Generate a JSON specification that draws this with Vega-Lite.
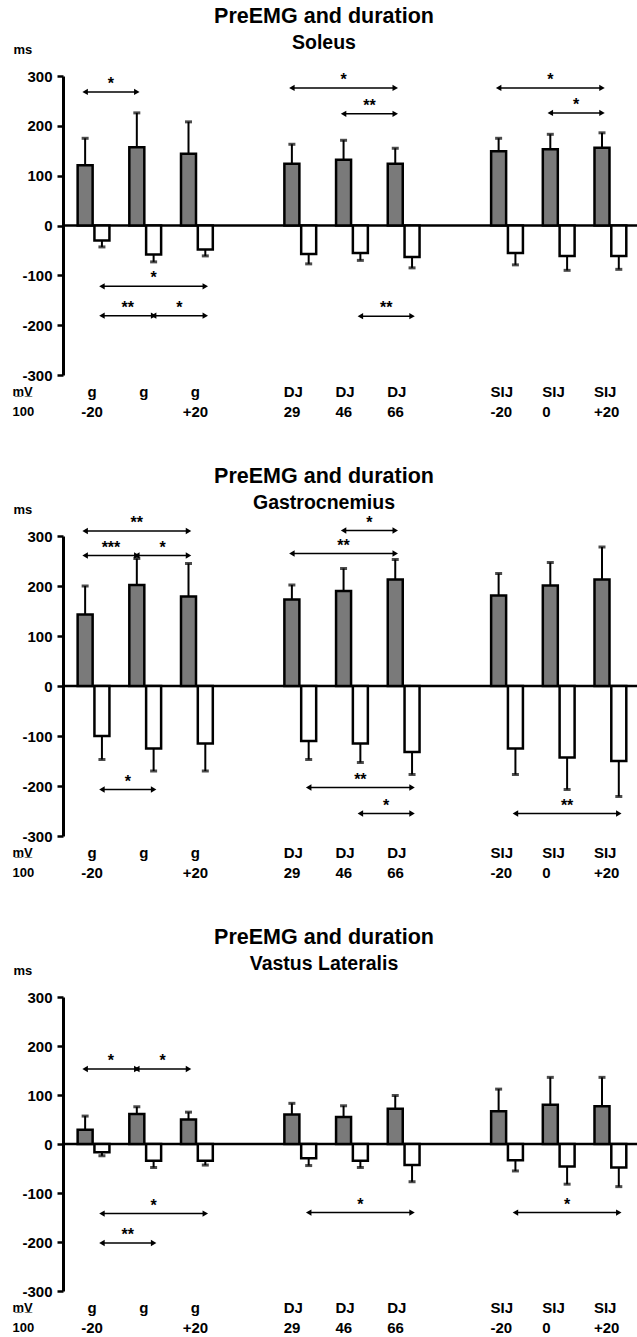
{
 "$schema": "https://vega.github.io/schema/vega-lite/v6.json",
 "padding": {"left": 12, "top": 6, "right": 0, "bottom": 0},
 "background": "white",
 "spacing": 161,
 "bounds": "flush",
 "config": {"view": {"stroke": null}, "font": "Liberation Sans", "axis": {"grid": false}},
 "datasets": {"d": [
  {"m":"Soleus","t":"b","pos":0,"side":"pre","v":121,"e":175},
  {"m":"Soleus","t":"b","pos":0,"side":"dur","v":-30,"e":-43},
  {"m":"Soleus","t":"b","pos":1,"side":"pre","v":157,"e":226},
  {"m":"Soleus","t":"b","pos":1,"side":"dur","v":-58,"e":-73},
  {"m":"Soleus","t":"b","pos":2,"side":"pre","v":144,"e":208},
  {"m":"Soleus","t":"b","pos":2,"side":"dur","v":-48,"e":-61},
  {"m":"Soleus","t":"b","pos":4,"side":"pre","v":124,"e":163},
  {"m":"Soleus","t":"b","pos":4,"side":"dur","v":-57,"e":-77},
  {"m":"Soleus","t":"b","pos":5,"side":"pre","v":132,"e":171},
  {"m":"Soleus","t":"b","pos":5,"side":"dur","v":-55,"e":-70},
  {"m":"Soleus","t":"b","pos":6,"side":"pre","v":124,"e":155},
  {"m":"Soleus","t":"b","pos":6,"side":"dur","v":-63,"e":-85},
  {"m":"Soleus","t":"b","pos":8,"side":"pre","v":149,"e":175},
  {"m":"Soleus","t":"b","pos":8,"side":"dur","v":-55,"e":-79},
  {"m":"Soleus","t":"b","pos":9,"side":"pre","v":153,"e":183},
  {"m":"Soleus","t":"b","pos":9,"side":"dur","v":-61,"e":-90},
  {"m":"Soleus","t":"b","pos":10,"side":"pre","v":156,"e":186},
  {"m":"Soleus","t":"b","pos":10,"side":"dur","v":-61,"e":-88},
  {"m":"Gastrocnemius","t":"b","pos":0,"side":"pre","v":143,"e":200},
  {"m":"Gastrocnemius","t":"b","pos":0,"side":"dur","v":-100,"e":-147},
  {"m":"Gastrocnemius","t":"b","pos":1,"side":"pre","v":202,"e":255},
  {"m":"Gastrocnemius","t":"b","pos":1,"side":"dur","v":-125,"e":-170},
  {"m":"Gastrocnemius","t":"b","pos":2,"side":"pre","v":179,"e":245},
  {"m":"Gastrocnemius","t":"b","pos":2,"side":"dur","v":-115,"e":-170},
  {"m":"Gastrocnemius","t":"b","pos":4,"side":"pre","v":173,"e":202},
  {"m":"Gastrocnemius","t":"b","pos":4,"side":"dur","v":-110,"e":-147},
  {"m":"Gastrocnemius","t":"b","pos":5,"side":"pre","v":190,"e":235},
  {"m":"Gastrocnemius","t":"b","pos":5,"side":"dur","v":-115,"e":-153},
  {"m":"Gastrocnemius","t":"b","pos":6,"side":"pre","v":213,"e":253},
  {"m":"Gastrocnemius","t":"b","pos":6,"side":"dur","v":-132,"e":-177},
  {"m":"Gastrocnemius","t":"b","pos":8,"side":"pre","v":181,"e":225},
  {"m":"Gastrocnemius","t":"b","pos":8,"side":"dur","v":-125,"e":-177},
  {"m":"Gastrocnemius","t":"b","pos":9,"side":"pre","v":201,"e":247},
  {"m":"Gastrocnemius","t":"b","pos":9,"side":"dur","v":-143,"e":-207},
  {"m":"Gastrocnemius","t":"b","pos":10,"side":"pre","v":213,"e":278},
  {"m":"Gastrocnemius","t":"b","pos":10,"side":"dur","v":-150,"e":-221},
  {"m":"Vastus Lateralis","t":"b","pos":0,"side":"pre","v":29,"e":57},
  {"m":"Vastus Lateralis","t":"b","pos":0,"side":"dur","v":-17,"e":-24},
  {"m":"Vastus Lateralis","t":"b","pos":1,"side":"pre","v":61,"e":76},
  {"m":"Vastus Lateralis","t":"b","pos":1,"side":"dur","v":-34,"e":-48},
  {"m":"Vastus Lateralis","t":"b","pos":2,"side":"pre","v":50,"e":65},
  {"m":"Vastus Lateralis","t":"b","pos":2,"side":"dur","v":-34,"e":-43},
  {"m":"Vastus Lateralis","t":"b","pos":4,"side":"pre","v":60,"e":83},
  {"m":"Vastus Lateralis","t":"b","pos":4,"side":"dur","v":-29,"e":-44},
  {"m":"Vastus Lateralis","t":"b","pos":5,"side":"pre","v":55,"e":78},
  {"m":"Vastus Lateralis","t":"b","pos":5,"side":"dur","v":-34,"e":-48},
  {"m":"Vastus Lateralis","t":"b","pos":6,"side":"pre","v":72,"e":99},
  {"m":"Vastus Lateralis","t":"b","pos":6,"side":"dur","v":-43,"e":-77},
  {"m":"Vastus Lateralis","t":"b","pos":8,"side":"pre","v":67,"e":112},
  {"m":"Vastus Lateralis","t":"b","pos":8,"side":"dur","v":-33,"e":-55},
  {"m":"Vastus Lateralis","t":"b","pos":9,"side":"pre","v":80,"e":136},
  {"m":"Vastus Lateralis","t":"b","pos":9,"side":"dur","v":-46,"e":-82},
  {"m":"Vastus Lateralis","t":"b","pos":10,"side":"pre","v":77,"e":136},
  {"m":"Vastus Lateralis","t":"b","pos":10,"side":"dur","v":-48,"e":-87},
  {"m":"Soleus","t":"a","id":"s1","pos":0,"side":"pre","y":268,"s":"*"},
  {"m":"Soleus","t":"a","id":"s1","pos":1,"side":"pre","y":268,"s":"*"},
  {"m":"Soleus","t":"a","id":"s2","pos":4,"side":"pre","y":276,"s":"*"},
  {"m":"Soleus","t":"a","id":"s2","pos":6,"side":"pre","y":276,"s":"*"},
  {"m":"Soleus","t":"a","id":"s3","pos":5,"side":"pre","y":224,"s":"**"},
  {"m":"Soleus","t":"a","id":"s3","pos":6,"side":"pre","y":224,"s":"**"},
  {"m":"Soleus","t":"a","id":"s4","pos":8,"side":"pre","y":276,"s":"*"},
  {"m":"Soleus","t":"a","id":"s4","pos":10,"side":"pre","y":276,"s":"*"},
  {"m":"Soleus","t":"a","id":"s5","pos":9,"side":"pre","y":226,"s":"*"},
  {"m":"Soleus","t":"a","id":"s5","pos":10,"side":"pre","y":226,"s":"*"},
  {"m":"Soleus","t":"a","id":"s6","pos":0,"side":"dur","y":-122,"s":"*"},
  {"m":"Soleus","t":"a","id":"s6","pos":2,"side":"dur","y":-122,"s":"*"},
  {"m":"Soleus","t":"a","id":"s7","pos":0,"side":"dur","y":-181,"s":"**"},
  {"m":"Soleus","t":"a","id":"s7","pos":1,"side":"dur","y":-181,"s":"**"},
  {"m":"Soleus","t":"a","id":"s8","pos":1,"side":"dur","y":-181,"s":"*"},
  {"m":"Soleus","t":"a","id":"s8","pos":2,"side":"dur","y":-181,"s":"*"},
  {"m":"Soleus","t":"a","id":"s9","pos":5,"side":"dur","y":-182,"s":"**"},
  {"m":"Soleus","t":"a","id":"s9","pos":6,"side":"dur","y":-182,"s":"**"},
  {"m":"Gastrocnemius","t":"a","id":"g1","pos":0,"side":"pre","y":310,"s":"**"},
  {"m":"Gastrocnemius","t":"a","id":"g1","pos":2,"side":"pre","y":310,"s":"**"},
  {"m":"Gastrocnemius","t":"a","id":"g2","pos":0,"side":"pre","y":261,"s":"***"},
  {"m":"Gastrocnemius","t":"a","id":"g2","pos":1,"side":"pre","y":261,"s":"***"},
  {"m":"Gastrocnemius","t":"a","id":"g3","pos":1,"side":"pre","y":261,"s":"*"},
  {"m":"Gastrocnemius","t":"a","id":"g3","pos":2,"side":"pre","y":261,"s":"*"},
  {"m":"Gastrocnemius","t":"a","id":"g4","pos":4,"side":"pre","y":265,"s":"**"},
  {"m":"Gastrocnemius","t":"a","id":"g4","pos":6,"side":"pre","y":265,"s":"**"},
  {"m":"Gastrocnemius","t":"a","id":"g5","pos":5,"side":"pre","y":311,"s":"*"},
  {"m":"Gastrocnemius","t":"a","id":"g5","pos":6,"side":"pre","y":311,"s":"*"},
  {"m":"Gastrocnemius","t":"a","id":"g6","pos":0,"side":"dur","y":-207,"s":"*"},
  {"m":"Gastrocnemius","t":"a","id":"g6","pos":1,"side":"dur","y":-207,"s":"*"},
  {"m":"Gastrocnemius","t":"a","id":"g7","pos":4,"side":"dur","y":-203,"s":"**"},
  {"m":"Gastrocnemius","t":"a","id":"g7","pos":6,"side":"dur","y":-203,"s":"**"},
  {"m":"Gastrocnemius","t":"a","id":"g8","pos":5,"side":"dur","y":-255,"s":"*"},
  {"m":"Gastrocnemius","t":"a","id":"g8","pos":6,"side":"dur","y":-255,"s":"*"},
  {"m":"Gastrocnemius","t":"a","id":"g9","pos":8,"side":"dur","y":-255,"s":"**"},
  {"m":"Gastrocnemius","t":"a","id":"g9","pos":10,"side":"dur","y":-255,"s":"**"},
  {"m":"Vastus Lateralis","t":"a","id":"v1","pos":0,"side":"pre","y":153,"s":"*"},
  {"m":"Vastus Lateralis","t":"a","id":"v1","pos":1,"side":"pre","y":153,"s":"*"},
  {"m":"Vastus Lateralis","t":"a","id":"v2","pos":1,"side":"pre","y":153,"s":"*"},
  {"m":"Vastus Lateralis","t":"a","id":"v2","pos":2,"side":"pre","y":153,"s":"*"},
  {"m":"Vastus Lateralis","t":"a","id":"v3","pos":0,"side":"dur","y":-142,"s":"*"},
  {"m":"Vastus Lateralis","t":"a","id":"v3","pos":2,"side":"dur","y":-142,"s":"*"},
  {"m":"Vastus Lateralis","t":"a","id":"v4","pos":0,"side":"dur","y":-202,"s":"**"},
  {"m":"Vastus Lateralis","t":"a","id":"v4","pos":1,"side":"dur","y":-202,"s":"**"},
  {"m":"Vastus Lateralis","t":"a","id":"v5","pos":4,"side":"dur","y":-140,"s":"*"},
  {"m":"Vastus Lateralis","t":"a","id":"v5","pos":6,"side":"dur","y":-140,"s":"*"},
  {"m":"Vastus Lateralis","t":"a","id":"v6","pos":8,"side":"dur","y":-140,"s":"*"},
  {"m":"Vastus Lateralis","t":"a","id":"v6","pos":10,"side":"dur","y":-140,"s":"*"}
 ]},
 "vconcat": [
  {
   "width": 574, "height": 299,
   "title": {"text": "PreEMG and duration", "subtitle": "Soleus", "anchor": "middle", "frame": "group", "dx": -26, "offset": -9, "fontSize": 21.5, "subtitleFontSize": 19.5, "font": "Liberation Sans", "subtitleFont": "Liberation Sans", "fontWeight": "bold", "subtitleFontWeight": "bold", "color": "black", "subtitleColor": "black", "subtitlePadding": 6},
   "data": {"name": "d"},
   "transform": [{"filter": "datum.m=='Soleus'"}],
   "layer": [
    {"data": {"values": [{}]}, "mark": {"type": "rule", "color": "black", "strokeWidth": 2.5}, "encoding": {"y": {"datum": 0, "type": "quantitative", "scale": {"domain": [-300, 300], "nice": false, "zero": false}}}},
    {"transform": [{"filter": "datum.t=='b' && datum.side=='pre'"}], "mark": {"type": "rule", "color": "black", "strokeWidth": 2, "xOffset": -8.4}, "encoding": {
      "x": {"field": "pos", "type": "quantitative", "scale": {"domain": [-0.494, 10.418], "nice": false, "zero": false}, "axis": {"title": ["m\u0332V\u0332", "100"], "titleX": -51, "titleY": 16, "titleAlign": "left", "titleBaseline": "middle", "titleAngle": 0, "titleFontSize": 13, "titleFontWeight": "bold", "titleColor": "black", "titleLineHeight": 20, "titleFont": "Liberation Sans", "values": [0, 1, 2, 4, 5, 6, 8, 9, 10], "labelExpr": "[['g','-20'],['g'],['g','+20'],[''],['DJ','29'],['DJ','46'],['DJ','66'],[''],['SIJ','-20'],['SIJ','0'],['SIJ','+20']][datum.value]", "labelFont": "Liberation Sans", "labelFontSize": 15, "labelFontWeight": "bold", "labelColor": "black", "labelLineHeight": 20, "labelPadding": 9, "labelBaseline": "top", "labelAlign": {"condition": {"test": "datum.value < 3", "value": "center"}, "value": "left"}, "labelOffset": {"condition": {"test": "datum.value < 3", "value": -2}, "value": -17}, "domain": false, "ticks": false, "tickSize": 0, "grid": false, "labelOverlap": false, "labelFlush": false, "labelBound": false}},
      "y": {"field": "v", "type": "quantitative", "scale": {"domain": [-300, 300], "nice": false, "zero": false}, "axis": {"title": "ms", "titleAngle": 0, "titleX": -50, "titleY": -27, "titleAlign": "left", "titleBaseline": "middle", "titleFontSize": 13, "titleFontWeight": "bold", "titleColor": "black", "titleFont": "Liberation Sans", "values": [-300, -200, -100, 0, 100, 200, 300], "labelExpr": "'' + datum.value", "labelFont": "Liberation Sans", "labelFontSize": 15, "labelFontWeight": "bold", "labelColor": "black", "labelPadding": 5, "tickSize": 6, "tickWidth": 2.5, "tickColor": "black", "domainWidth": 3, "domainColor": "black", "grid": false}},
      "y2": {"field": "e"}}},
    {"transform": [{"filter": "datum.t=='b' && datum.side=='dur'"}], "mark": {"type": "rule", "color": "black", "strokeWidth": 2, "xOffset": 8.4}, "encoding": {"x": {"field": "pos", "type": "quantitative", "scale": {"domain": [-0.494, 10.418], "nice": false, "zero": false}}, "y": {"field": "v", "type": "quantitative", "scale": {"domain": [-300, 300], "nice": false, "zero": false}}, "y2": {"field": "e"}}},
    {"transform": [{"filter": "datum.t=='b' && datum.side=='pre'"}], "mark": {"type": "tick", "orient": "horizontal", "color": "black", "size": 7, "thickness": 3, "xOffset": -8.4}, "encoding": {"x": {"field": "pos", "type": "quantitative", "scale": {"domain": [-0.494, 10.418], "nice": false, "zero": false}}, "y": {"field": "e", "type": "quantitative", "scale": {"domain": [-300, 300], "nice": false, "zero": false}}}},
    {"transform": [{"filter": "datum.t=='b' && datum.side=='dur'"}], "mark": {"type": "tick", "orient": "horizontal", "color": "black", "size": 7, "thickness": 3, "xOffset": 8.4}, "encoding": {"x": {"field": "pos", "type": "quantitative", "scale": {"domain": [-0.494, 10.418], "nice": false, "zero": false}}, "y": {"field": "e", "type": "quantitative", "scale": {"domain": [-300, 300], "nice": false, "zero": false}}}},
    {"transform": [{"filter": "datum.t=='b' && datum.side=='pre'"}], "mark": {"type": "bar", "orient": "vertical", "width": 15, "fill": "#7a7a7a", "stroke": "black", "strokeWidth": 2.5, "xOffset": -8.4}, "encoding": {"x": {"field": "pos", "type": "quantitative", "scale": {"domain": [-0.494, 10.418], "nice": false, "zero": false}}, "y": {"field": "v", "type": "quantitative", "scale": {"domain": [-300, 300], "nice": false, "zero": false}}}},
    {"transform": [{"filter": "datum.t=='b' && datum.side=='dur'"}], "mark": {"type": "bar", "orient": "vertical", "width": 15, "fill": "white", "stroke": "black", "strokeWidth": 2.5, "xOffset": 8.4}, "encoding": {"x": {"field": "pos", "type": "quantitative", "scale": {"domain": [-0.494, 10.418], "nice": false, "zero": false}}, "y": {"field": "v", "type": "quantitative", "scale": {"domain": [-300, 300], "nice": false, "zero": false}}}},
    {"transform": [{"filter": "datum.t=='a' && datum.side=='pre'"}], "mark": {"type": "line", "color": "black", "strokeWidth": 1.5, "xOffset": -8.4}, "encoding": {"x": {"field": "pos", "type": "quantitative", "scale": {"domain": [-0.494, 10.418], "nice": false, "zero": false}}, "y": {"field": "y", "type": "quantitative", "scale": {"domain": [-300, 300], "nice": false, "zero": false}}, "detail": {"field": "id"}}},
    {"transform": [{"filter": "datum.t=='a' && datum.side=='dur'"}], "mark": {"type": "line", "color": "black", "strokeWidth": 1.5, "xOffset": 8.4}, "encoding": {"x": {"field": "pos", "type": "quantitative", "scale": {"domain": [-0.494, 10.418], "nice": false, "zero": false}}, "y": {"field": "y", "type": "quantitative", "scale": {"domain": [-300, 300], "nice": false, "zero": false}}, "detail": {"field": "id"}}},
    {"transform": [{"filter": "datum.t=='a' && datum.side=='pre'"}], "mark": {"type": "point", "shape": "triangle-left", "filled": true, "color": "black", "opacity": 1, "size": 40, "xOffset": -8.4}, "encoding": {"x": {"aggregate": "min", "field": "pos", "type": "quantitative", "scale": {"domain": [-0.494, 10.418], "nice": false, "zero": false}}, "y": {"field": "y", "type": "quantitative", "scale": {"domain": [-300, 300], "nice": false, "zero": false}}, "detail": {"field": "id"}}},
    {"transform": [{"filter": "datum.t=='a' && datum.side=='dur'"}], "mark": {"type": "point", "shape": "triangle-left", "filled": true, "color": "black", "opacity": 1, "size": 40, "xOffset": 8.4}, "encoding": {"x": {"aggregate": "min", "field": "pos", "type": "quantitative", "scale": {"domain": [-0.494, 10.418], "nice": false, "zero": false}}, "y": {"field": "y", "type": "quantitative", "scale": {"domain": [-300, 300], "nice": false, "zero": false}}, "detail": {"field": "id"}}},
    {"transform": [{"filter": "datum.t=='a' && datum.side=='pre'"}], "mark": {"type": "point", "shape": "triangle-right", "filled": true, "color": "black", "opacity": 1, "size": 40, "xOffset": -8.4}, "encoding": {"x": {"aggregate": "max", "field": "pos", "type": "quantitative", "scale": {"domain": [-0.494, 10.418], "nice": false, "zero": false}}, "y": {"field": "y", "type": "quantitative", "scale": {"domain": [-300, 300], "nice": false, "zero": false}}, "detail": {"field": "id"}}},
    {"transform": [{"filter": "datum.t=='a' && datum.side=='dur'"}], "mark": {"type": "point", "shape": "triangle-right", "filled": true, "color": "black", "opacity": 1, "size": 40, "xOffset": 8.4}, "encoding": {"x": {"aggregate": "max", "field": "pos", "type": "quantitative", "scale": {"domain": [-0.494, 10.418], "nice": false, "zero": false}}, "y": {"field": "y", "type": "quantitative", "scale": {"domain": [-300, 300], "nice": false, "zero": false}}, "detail": {"field": "id"}}},
    {"transform": [{"filter": "datum.t=='a' && datum.side=='pre'"}], "mark": {"type": "text", "color": "black", "fontSize": 16, "fontWeight": "bold", "baseline": "middle", "dy": -8, "xOffset": -8.4}, "encoding": {"x": {"aggregate": "mean", "field": "pos", "type": "quantitative", "scale": {"domain": [-0.494, 10.418], "nice": false, "zero": false}}, "y": {"field": "y", "type": "quantitative", "scale": {"domain": [-300, 300], "nice": false, "zero": false}}, "text": {"field": "s"}, "detail": {"field": "id"}}},
    {"transform": [{"filter": "datum.t=='a' && datum.side=='dur'"}], "mark": {"type": "text", "color": "black", "fontSize": 16, "fontWeight": "bold", "baseline": "middle", "dy": -8, "xOffset": 8.4}, "encoding": {"x": {"aggregate": "mean", "field": "pos", "type": "quantitative", "scale": {"domain": [-0.494, 10.418], "nice": false, "zero": false}}, "y": {"field": "y", "type": "quantitative", "scale": {"domain": [-300, 300], "nice": false, "zero": false}}, "text": {"field": "s"}, "detail": {"field": "id"}}}
   ]
  },
  {
   "width": 574, "height": 300,
   "title": {"text": "PreEMG and duration", "subtitle": "Gastrocnemius", "anchor": "middle", "frame": "group", "dx": -26, "offset": -9, "fontSize": 21.5, "subtitleFontSize": 19.5, "font": "Liberation Sans", "subtitleFont": "Liberation Sans", "fontWeight": "bold", "subtitleFontWeight": "bold", "color": "black", "subtitleColor": "black", "subtitlePadding": 6},
   "data": {"name": "d"},
   "transform": [{"filter": "datum.m=='Gastrocnemius'"}],
   "layer": [
    {"data": {"values": [{}]}, "mark": {"type": "rule", "color": "black", "strokeWidth": 2.5}, "encoding": {"y": {"datum": 0, "type": "quantitative", "scale": {"domain": [-300, 300], "nice": false, "zero": false}}}},
    {"transform": [{"filter": "datum.t=='b' && datum.side=='pre'"}], "mark": {"type": "rule", "color": "black", "strokeWidth": 2, "xOffset": -8.4}, "encoding": {
      "x": {"field": "pos", "type": "quantitative", "scale": {"domain": [-0.494, 10.418], "nice": false, "zero": false}, "axis": {"title": ["m\u0332V\u0332", "100"], "titleX": -51, "titleY": 16, "titleAlign": "left", "titleBaseline": "middle", "titleAngle": 0, "titleFontSize": 13, "titleFontWeight": "bold", "titleColor": "black", "titleLineHeight": 20, "titleFont": "Liberation Sans", "values": [0, 1, 2, 4, 5, 6, 8, 9, 10], "labelExpr": "[['g','-20'],['g'],['g','+20'],[''],['DJ','29'],['DJ','46'],['DJ','66'],[''],['SIJ','-20'],['SIJ','0'],['SIJ','+20']][datum.value]", "labelFont": "Liberation Sans", "labelFontSize": 15, "labelFontWeight": "bold", "labelColor": "black", "labelLineHeight": 20, "labelPadding": 9, "labelBaseline": "top", "labelAlign": {"condition": {"test": "datum.value < 3", "value": "center"}, "value": "left"}, "labelOffset": {"condition": {"test": "datum.value < 3", "value": -2}, "value": -17}, "domain": false, "ticks": false, "tickSize": 0, "grid": false, "labelOverlap": false, "labelFlush": false, "labelBound": false}},
      "y": {"field": "v", "type": "quantitative", "scale": {"domain": [-300, 300], "nice": false, "zero": false}, "axis": {"title": "ms", "titleAngle": 0, "titleX": -50, "titleY": -27, "titleAlign": "left", "titleBaseline": "middle", "titleFontSize": 13, "titleFontWeight": "bold", "titleColor": "black", "titleFont": "Liberation Sans", "values": [-300, -200, -100, 0, 100, 200, 300], "labelExpr": "'' + datum.value", "labelFont": "Liberation Sans", "labelFontSize": 15, "labelFontWeight": "bold", "labelColor": "black", "labelPadding": 5, "tickSize": 6, "tickWidth": 2.5, "tickColor": "black", "domainWidth": 3, "domainColor": "black", "grid": false}},
      "y2": {"field": "e"}}},
    {"transform": [{"filter": "datum.t=='b' && datum.side=='dur'"}], "mark": {"type": "rule", "color": "black", "strokeWidth": 2, "xOffset": 8.4}, "encoding": {"x": {"field": "pos", "type": "quantitative", "scale": {"domain": [-0.494, 10.418], "nice": false, "zero": false}}, "y": {"field": "v", "type": "quantitative", "scale": {"domain": [-300, 300], "nice": false, "zero": false}}, "y2": {"field": "e"}}},
    {"transform": [{"filter": "datum.t=='b' && datum.side=='pre'"}], "mark": {"type": "tick", "orient": "horizontal", "color": "black", "size": 7, "thickness": 3, "xOffset": -8.4}, "encoding": {"x": {"field": "pos", "type": "quantitative", "scale": {"domain": [-0.494, 10.418], "nice": false, "zero": false}}, "y": {"field": "e", "type": "quantitative", "scale": {"domain": [-300, 300], "nice": false, "zero": false}}}},
    {"transform": [{"filter": "datum.t=='b' && datum.side=='dur'"}], "mark": {"type": "tick", "orient": "horizontal", "color": "black", "size": 7, "thickness": 3, "xOffset": 8.4}, "encoding": {"x": {"field": "pos", "type": "quantitative", "scale": {"domain": [-0.494, 10.418], "nice": false, "zero": false}}, "y": {"field": "e", "type": "quantitative", "scale": {"domain": [-300, 300], "nice": false, "zero": false}}}},
    {"transform": [{"filter": "datum.t=='b' && datum.side=='pre'"}], "mark": {"type": "bar", "orient": "vertical", "width": 15, "fill": "#7a7a7a", "stroke": "black", "strokeWidth": 2.5, "xOffset": -8.4}, "encoding": {"x": {"field": "pos", "type": "quantitative", "scale": {"domain": [-0.494, 10.418], "nice": false, "zero": false}}, "y": {"field": "v", "type": "quantitative", "scale": {"domain": [-300, 300], "nice": false, "zero": false}}}},
    {"transform": [{"filter": "datum.t=='b' && datum.side=='dur'"}], "mark": {"type": "bar", "orient": "vertical", "width": 15, "fill": "white", "stroke": "black", "strokeWidth": 2.5, "xOffset": 8.4}, "encoding": {"x": {"field": "pos", "type": "quantitative", "scale": {"domain": [-0.494, 10.418], "nice": false, "zero": false}}, "y": {"field": "v", "type": "quantitative", "scale": {"domain": [-300, 300], "nice": false, "zero": false}}}},
    {"transform": [{"filter": "datum.t=='a' && datum.side=='pre'"}], "mark": {"type": "line", "color": "black", "strokeWidth": 1.5, "xOffset": -8.4}, "encoding": {"x": {"field": "pos", "type": "quantitative", "scale": {"domain": [-0.494, 10.418], "nice": false, "zero": false}}, "y": {"field": "y", "type": "quantitative", "scale": {"domain": [-300, 300], "nice": false, "zero": false}}, "detail": {"field": "id"}}},
    {"transform": [{"filter": "datum.t=='a' && datum.side=='dur'"}], "mark": {"type": "line", "color": "black", "strokeWidth": 1.5, "xOffset": 8.4}, "encoding": {"x": {"field": "pos", "type": "quantitative", "scale": {"domain": [-0.494, 10.418], "nice": false, "zero": false}}, "y": {"field": "y", "type": "quantitative", "scale": {"domain": [-300, 300], "nice": false, "zero": false}}, "detail": {"field": "id"}}},
    {"transform": [{"filter": "datum.t=='a' && datum.side=='pre'"}], "mark": {"type": "point", "shape": "triangle-left", "filled": true, "color": "black", "opacity": 1, "size": 40, "xOffset": -8.4}, "encoding": {"x": {"aggregate": "min", "field": "pos", "type": "quantitative", "scale": {"domain": [-0.494, 10.418], "nice": false, "zero": false}}, "y": {"field": "y", "type": "quantitative", "scale": {"domain": [-300, 300], "nice": false, "zero": false}}, "detail": {"field": "id"}}},
    {"transform": [{"filter": "datum.t=='a' && datum.side=='dur'"}], "mark": {"type": "point", "shape": "triangle-left", "filled": true, "color": "black", "opacity": 1, "size": 40, "xOffset": 8.4}, "encoding": {"x": {"aggregate": "min", "field": "pos", "type": "quantitative", "scale": {"domain": [-0.494, 10.418], "nice": false, "zero": false}}, "y": {"field": "y", "type": "quantitative", "scale": {"domain": [-300, 300], "nice": false, "zero": false}}, "detail": {"field": "id"}}},
    {"transform": [{"filter": "datum.t=='a' && datum.side=='pre'"}], "mark": {"type": "point", "shape": "triangle-right", "filled": true, "color": "black", "opacity": 1, "size": 40, "xOffset": -8.4}, "encoding": {"x": {"aggregate": "max", "field": "pos", "type": "quantitative", "scale": {"domain": [-0.494, 10.418], "nice": false, "zero": false}}, "y": {"field": "y", "type": "quantitative", "scale": {"domain": [-300, 300], "nice": false, "zero": false}}, "detail": {"field": "id"}}},
    {"transform": [{"filter": "datum.t=='a' && datum.side=='dur'"}], "mark": {"type": "point", "shape": "triangle-right", "filled": true, "color": "black", "opacity": 1, "size": 40, "xOffset": 8.4}, "encoding": {"x": {"aggregate": "max", "field": "pos", "type": "quantitative", "scale": {"domain": [-0.494, 10.418], "nice": false, "zero": false}}, "y": {"field": "y", "type": "quantitative", "scale": {"domain": [-300, 300], "nice": false, "zero": false}}, "detail": {"field": "id"}}},
    {"transform": [{"filter": "datum.t=='a' && datum.side=='pre'"}], "mark": {"type": "text", "color": "black", "fontSize": 16, "fontWeight": "bold", "baseline": "middle", "dy": -8, "xOffset": -8.4}, "encoding": {"x": {"aggregate": "mean", "field": "pos", "type": "quantitative", "scale": {"domain": [-0.494, 10.418], "nice": false, "zero": false}}, "y": {"field": "y", "type": "quantitative", "scale": {"domain": [-300, 300], "nice": false, "zero": false}}, "text": {"field": "s"}, "detail": {"field": "id"}}},
    {"transform": [{"filter": "datum.t=='a' && datum.side=='dur'"}], "mark": {"type": "text", "color": "black", "fontSize": 16, "fontWeight": "bold", "baseline": "middle", "dy": -8, "xOffset": 8.4}, "encoding": {"x": {"aggregate": "mean", "field": "pos", "type": "quantitative", "scale": {"domain": [-0.494, 10.418], "nice": false, "zero": false}}, "y": {"field": "y", "type": "quantitative", "scale": {"domain": [-300, 300], "nice": false, "zero": false}}, "text": {"field": "s"}, "detail": {"field": "id"}}}
   ]
  },
  {
   "width": 574, "height": 294,
   "title": {"text": "PreEMG and duration", "subtitle": "Vastus Lateralis", "anchor": "middle", "frame": "group", "dx": -26, "offset": -9, "fontSize": 21.5, "subtitleFontSize": 19.5, "font": "Liberation Sans", "subtitleFont": "Liberation Sans", "fontWeight": "bold", "subtitleFontWeight": "bold", "color": "black", "subtitleColor": "black", "subtitlePadding": 6},
   "data": {"name": "d"},
   "transform": [{"filter": "datum.m=='Vastus Lateralis'"}],
   "layer": [
    {"data": {"values": [{}]}, "mark": {"type": "rule", "color": "black", "strokeWidth": 2.5}, "encoding": {"y": {"datum": 0, "type": "quantitative", "scale": {"domain": [-300, 300], "nice": false, "zero": false}}}},
    {"transform": [{"filter": "datum.t=='b' && datum.side=='pre'"}], "mark": {"type": "rule", "color": "black", "strokeWidth": 2, "xOffset": -8.4}, "encoding": {
      "x": {"field": "pos", "type": "quantitative", "scale": {"domain": [-0.494, 10.418], "nice": false, "zero": false}, "axis": {"title": ["m\u0332V\u0332", "100"], "titleX": -51, "titleY": 16, "titleAlign": "left", "titleBaseline": "middle", "titleAngle": 0, "titleFontSize": 13, "titleFontWeight": "bold", "titleColor": "black", "titleLineHeight": 20, "titleFont": "Liberation Sans", "values": [0, 1, 2, 4, 5, 6, 8, 9, 10], "labelExpr": "[['g','-20'],['g'],['g','+20'],[''],['DJ','29'],['DJ','46'],['DJ','66'],[''],['SIJ','-20'],['SIJ','0'],['SIJ','+20']][datum.value]", "labelFont": "Liberation Sans", "labelFontSize": 15, "labelFontWeight": "bold", "labelColor": "black", "labelLineHeight": 20, "labelPadding": 9, "labelBaseline": "top", "labelAlign": {"condition": {"test": "datum.value < 3", "value": "center"}, "value": "left"}, "labelOffset": {"condition": {"test": "datum.value < 3", "value": -2}, "value": -17}, "domain": false, "ticks": false, "tickSize": 0, "grid": false, "labelOverlap": false, "labelFlush": false, "labelBound": false}},
      "y": {"field": "v", "type": "quantitative", "scale": {"domain": [-300, 300], "nice": false, "zero": false}, "axis": {"title": "ms", "titleAngle": 0, "titleX": -50, "titleY": -27, "titleAlign": "left", "titleBaseline": "middle", "titleFontSize": 13, "titleFontWeight": "bold", "titleColor": "black", "titleFont": "Liberation Sans", "values": [-300, -200, -100, 0, 100, 200, 300], "labelExpr": "'' + datum.value", "labelFont": "Liberation Sans", "labelFontSize": 15, "labelFontWeight": "bold", "labelColor": "black", "labelPadding": 5, "tickSize": 6, "tickWidth": 2.5, "tickColor": "black", "domainWidth": 3, "domainColor": "black", "grid": false}},
      "y2": {"field": "e"}}},
    {"transform": [{"filter": "datum.t=='b' && datum.side=='dur'"}], "mark": {"type": "rule", "color": "black", "strokeWidth": 2, "xOffset": 8.4}, "encoding": {"x": {"field": "pos", "type": "quantitative", "scale": {"domain": [-0.494, 10.418], "nice": false, "zero": false}}, "y": {"field": "v", "type": "quantitative", "scale": {"domain": [-300, 300], "nice": false, "zero": false}}, "y2": {"field": "e"}}},
    {"transform": [{"filter": "datum.t=='b' && datum.side=='pre'"}], "mark": {"type": "tick", "orient": "horizontal", "color": "black", "size": 7, "thickness": 3, "xOffset": -8.4}, "encoding": {"x": {"field": "pos", "type": "quantitative", "scale": {"domain": [-0.494, 10.418], "nice": false, "zero": false}}, "y": {"field": "e", "type": "quantitative", "scale": {"domain": [-300, 300], "nice": false, "zero": false}}}},
    {"transform": [{"filter": "datum.t=='b' && datum.side=='dur'"}], "mark": {"type": "tick", "orient": "horizontal", "color": "black", "size": 7, "thickness": 3, "xOffset": 8.4}, "encoding": {"x": {"field": "pos", "type": "quantitative", "scale": {"domain": [-0.494, 10.418], "nice": false, "zero": false}}, "y": {"field": "e", "type": "quantitative", "scale": {"domain": [-300, 300], "nice": false, "zero": false}}}},
    {"transform": [{"filter": "datum.t=='b' && datum.side=='pre'"}], "mark": {"type": "bar", "orient": "vertical", "width": 15, "fill": "#7a7a7a", "stroke": "black", "strokeWidth": 2.5, "xOffset": -8.4}, "encoding": {"x": {"field": "pos", "type": "quantitative", "scale": {"domain": [-0.494, 10.418], "nice": false, "zero": false}}, "y": {"field": "v", "type": "quantitative", "scale": {"domain": [-300, 300], "nice": false, "zero": false}}}},
    {"transform": [{"filter": "datum.t=='b' && datum.side=='dur'"}], "mark": {"type": "bar", "orient": "vertical", "width": 15, "fill": "white", "stroke": "black", "strokeWidth": 2.5, "xOffset": 8.4}, "encoding": {"x": {"field": "pos", "type": "quantitative", "scale": {"domain": [-0.494, 10.418], "nice": false, "zero": false}}, "y": {"field": "v", "type": "quantitative", "scale": {"domain": [-300, 300], "nice": false, "zero": false}}}},
    {"transform": [{"filter": "datum.t=='a' && datum.side=='pre'"}], "mark": {"type": "line", "color": "black", "strokeWidth": 1.5, "xOffset": -8.4}, "encoding": {"x": {"field": "pos", "type": "quantitative", "scale": {"domain": [-0.494, 10.418], "nice": false, "zero": false}}, "y": {"field": "y", "type": "quantitative", "scale": {"domain": [-300, 300], "nice": false, "zero": false}}, "detail": {"field": "id"}}},
    {"transform": [{"filter": "datum.t=='a' && datum.side=='dur'"}], "mark": {"type": "line", "color": "black", "strokeWidth": 1.5, "xOffset": 8.4}, "encoding": {"x": {"field": "pos", "type": "quantitative", "scale": {"domain": [-0.494, 10.418], "nice": false, "zero": false}}, "y": {"field": "y", "type": "quantitative", "scale": {"domain": [-300, 300], "nice": false, "zero": false}}, "detail": {"field": "id"}}},
    {"transform": [{"filter": "datum.t=='a' && datum.side=='pre'"}], "mark": {"type": "point", "shape": "triangle-left", "filled": true, "color": "black", "opacity": 1, "size": 40, "xOffset": -8.4}, "encoding": {"x": {"aggregate": "min", "field": "pos", "type": "quantitative", "scale": {"domain": [-0.494, 10.418], "nice": false, "zero": false}}, "y": {"field": "y", "type": "quantitative", "scale": {"domain": [-300, 300], "nice": false, "zero": false}}, "detail": {"field": "id"}}},
    {"transform": [{"filter": "datum.t=='a' && datum.side=='dur'"}], "mark": {"type": "point", "shape": "triangle-left", "filled": true, "color": "black", "opacity": 1, "size": 40, "xOffset": 8.4}, "encoding": {"x": {"aggregate": "min", "field": "pos", "type": "quantitative", "scale": {"domain": [-0.494, 10.418], "nice": false, "zero": false}}, "y": {"field": "y", "type": "quantitative", "scale": {"domain": [-300, 300], "nice": false, "zero": false}}, "detail": {"field": "id"}}},
    {"transform": [{"filter": "datum.t=='a' && datum.side=='pre'"}], "mark": {"type": "point", "shape": "triangle-right", "filled": true, "color": "black", "opacity": 1, "size": 40, "xOffset": -8.4}, "encoding": {"x": {"aggregate": "max", "field": "pos", "type": "quantitative", "scale": {"domain": [-0.494, 10.418], "nice": false, "zero": false}}, "y": {"field": "y", "type": "quantitative", "scale": {"domain": [-300, 300], "nice": false, "zero": false}}, "detail": {"field": "id"}}},
    {"transform": [{"filter": "datum.t=='a' && datum.side=='dur'"}], "mark": {"type": "point", "shape": "triangle-right", "filled": true, "color": "black", "opacity": 1, "size": 40, "xOffset": 8.4}, "encoding": {"x": {"aggregate": "max", "field": "pos", "type": "quantitative", "scale": {"domain": [-0.494, 10.418], "nice": false, "zero": false}}, "y": {"field": "y", "type": "quantitative", "scale": {"domain": [-300, 300], "nice": false, "zero": false}}, "detail": {"field": "id"}}},
    {"transform": [{"filter": "datum.t=='a' && datum.side=='pre'"}], "mark": {"type": "text", "color": "black", "fontSize": 16, "fontWeight": "bold", "baseline": "middle", "dy": -8, "xOffset": -8.4}, "encoding": {"x": {"aggregate": "mean", "field": "pos", "type": "quantitative", "scale": {"domain": [-0.494, 10.418], "nice": false, "zero": false}}, "y": {"field": "y", "type": "quantitative", "scale": {"domain": [-300, 300], "nice": false, "zero": false}}, "text": {"field": "s"}, "detail": {"field": "id"}}},
    {"transform": [{"filter": "datum.t=='a' && datum.side=='dur'"}], "mark": {"type": "text", "color": "black", "fontSize": 16, "fontWeight": "bold", "baseline": "middle", "dy": -8, "xOffset": 8.4}, "encoding": {"x": {"aggregate": "mean", "field": "pos", "type": "quantitative", "scale": {"domain": [-0.494, 10.418], "nice": false, "zero": false}}, "y": {"field": "y", "type": "quantitative", "scale": {"domain": [-300, 300], "nice": false, "zero": false}}, "text": {"field": "s"}, "detail": {"field": "id"}}}
   ]
  }
 ]
}
